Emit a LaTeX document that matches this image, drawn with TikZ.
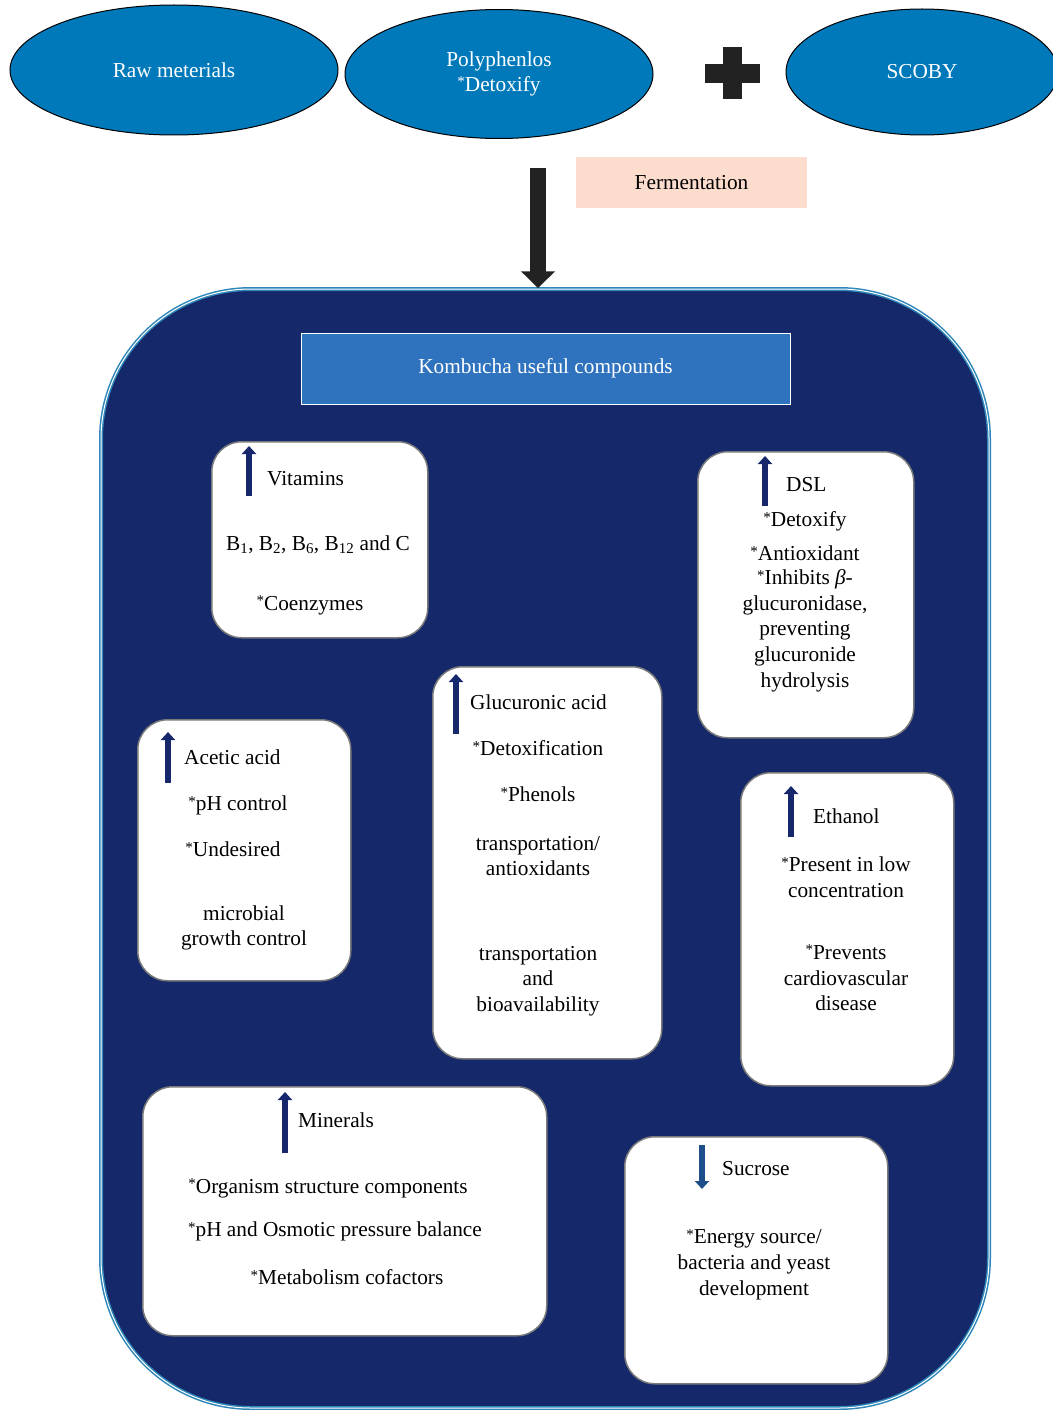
\documentclass[tikz,border=0pt]{standalone}
\usepackage{fontspec}
\setmainfont{Liberation Serif}
\usetikzlibrary{shapes.geometric,arrows.meta}
\definecolor{ellblue}{HTML}{0079BA}
\definecolor{navy}{HTML}{15296A}
\definecolor{hdrblue}{HTML}{2F72BE}
\definecolor{peach}{HTML}{FCDCCD}
\definecolor{darkarr}{HTML}{222222}
\definecolor{boxgray}{HTML}{7A7A7A}
\definecolor{rimteal}{HTML}{2F86B8}
\definecolor{arrnavy}{HTML}{17276B}
\definecolor{sucblue}{HTML}{1E4F8A}
\newcommand\stx{\raisebox{4.5pt}{\fontsize{15}{15}\selectfont *}}
\begin{document}
\begin{tikzpicture}[x=1pt,y=-1pt,
  every node/.style={font=\fontsize{21.3}{25.6}\selectfont, inner sep=0pt},
  topell/.style={ellipse, draw=black, line width=1pt, fill=ellblue, text=white, align=center},
  cbox/.style={draw=boxgray, line width=1.5pt, fill=white, rounded corners=30pt, anchor=north west},
  boxarr/.style={draw=arrnavy, line width=6.5pt, -{Triangle[width=14pt,length=8pt]}},
  txt/.style={align=center, text=black, yshift=-0.5pt},
  lbl/.style={anchor=west, text=black, yshift=-0.5pt}]
\useasboundingbox (0,0) rectangle (1052,1410);
% top ellipses
\node[topell, minimum width=328pt, minimum height=130pt] (raw) at (174,70) {Raw meterials};
\node[topell, minimum width=308pt, minimum height=129pt] (poly) at (499,74) {Polyphenlos\\[-1pt]\stx Detoxify};
\node[topell, minimum width=272pt, minimum height=126pt] (scoby) at (922,72) {SCOBY};
% plus sign
\fill[darkarr] (723,47) rectangle (742,99);
\fill[darkarr] (705,64) rectangle (760,83);
% fermentation
\node[fill=peach, minimum width=231pt, minimum height=51pt] (ferm) at (691.5,182.5) {Fermentation};
% big container
\node[draw=rimteal, double=white, double distance=1pt, line width=1.5pt, fill=navy,
      rounded corners=150pt, minimum width=888pt, minimum height=1119pt] (kb) at (545,848.5) {};
\coordinate (arrstart) at (538,168);
\draw[draw=darkarr, line width=16pt, -{Triangle[width=33pt,length=17pt]}] (arrstart) -- (arrstart |- kb.north);
% header
\node[draw=white, line width=1pt, fill=hdrblue, text=white, minimum width=489pt, minimum height=71pt] (hdr) at (545.5,368.5) {Kombucha useful compounds};
% boxes
\node[cbox, minimum width=216pt, minimum height=196pt] (vit) at (211,441) {};
\node[cbox, minimum width=216pt, minimum height=286pt] (dsl) at (697,451) {};
\node[cbox, minimum width=229pt, minimum height=392pt] (glu) at (432,666) {};
\node[cbox, minimum width=213pt, minimum height=261pt] (ace) at (137,719) {};
\node[cbox, minimum width=213pt, minimum height=313pt] (eth) at (740,772) {};
\node[cbox, minimum width=404pt, minimum height=249pt] (min) at (142,1086) {};
\node[cbox, minimum width=263pt, minimum height=247pt] (suc) at (624,1136) {};
% vitamins
\draw[boxarr] (249,496) -- (249,446);
\node[lbl] (vitl) at (267,478) {Vitamins};
\node[txt] (vit1) at (318,544) {B\textsubscript{1}, B\textsubscript{2}, B\textsubscript{6}, B\textsubscript{12} and C};
\node[txt] (vit2) at (310,605) {\stx Coenzymes};
% DSL
\draw[boxarr] (765,506) -- (765,456);
\node[lbl] (dsll) at (786,484) {DSL};
\node[txt] (dsl1) at (805,521) {\stx Detoxify};
\node[txt] (dsl2) at (805,553) {\stx Antioxidant};
\node[txt, anchor=north] (dsl3) at (805,569) {\stx Inhibits \textit{β}-\\glucuronidase,\\preventing\\glucuronide\\hydrolysis};
% glucuronic
\draw[boxarr] (456,734) -- (456,674);
\node[lbl] (glul) at (470,702) {Glucuronic acid};
\node[txt] (glu1) at (538,748) {\stx Detoxification};
\node[txt] (glu2) at (538,794) {\stx Phenols};
\node[txt] (glu3) at (538,855.5) {transportation/\\antioxidants};
\node[txt] (glu4) at (538,980.5) {transportation\\and\\bioavailability};
% acetic
\draw[boxarr] (168,783) -- (168,732);
\node[lbl] (acel) at (184,757) {Acetic acid};
\node[txt] (ace1) at (238,805) {\stx pH control};
\node[txt] (ace2) at (233,849) {\stx Undesired};
\node[txt] (ace3) at (244,927.5) {microbial\\growth control};
% ethanol
\draw[boxarr] (791,837) -- (791,786);
\node[lbl] (ethl) at (813,816) {Ethanol};
\node[txt] (eth1) at (846,877) {\stx Present in low\\concentration};
\node[txt] (eth2) at (846,977.5) {\stx Prevents\\cardiovascular\\disease};
% minerals
\draw[boxarr] (285,1153) -- (285,1092);
\node[lbl] (minl) at (298,1120) {Minerals};
\node[txt] (min1) at (328,1188) {\stx Organism structure components};
\node[txt] (min2) at (335,1231) {\stx pH and Osmotic pressure balance};
\node[txt] (min3) at (347,1277) {\stx Metabolism cofactors};
% sucrose
\draw[draw=sucblue, line width=6.5pt, -{Triangle[width=14pt,length=8pt]}] (702,1145) -- (702,1189);
\node[lbl] (sucl) at (722,1168) {Sucrose};
\node[txt] (suc1) at (754,1264) {\stx Energy source/\\bacteria and yeast\\development};
\end{tikzpicture}
\end{document}
